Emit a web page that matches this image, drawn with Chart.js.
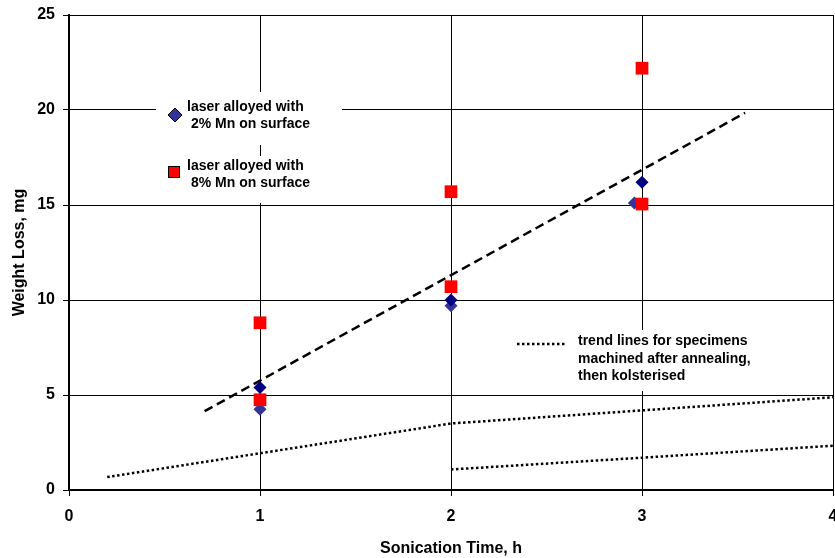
<!DOCTYPE html>
<html>
<head>
<meta charset="utf-8">
<script src="https://cdn.jsdelivr.net/npm/chart.js@4/dist/chart.umd.min.js"></script>
<style>
  html, body { margin: 0; padding: 0; background: #fff; }
  #wrap { width: 835px; height: 558px; }
</style>
</head>
<body>
<div id="wrap"><canvas id="lossChart" width="835" height="558"></canvas></div>
<script>
// sonication time, h
const hours = [1, 2, 3];

// laser alloyed, 2% Mn (two specimens)
const mn2A = [5.4, 10.0, 16.2];
const mn2BHours = [1, 2, 2.96];
const mn2B = [4.25, 9.7, 15.1];

// laser alloyed, 8% Mn (two specimens)
const mn8A = [8.8, 15.7, 22.2];
const mn8B = [4.75, 10.7, 15.05];

// dashed trend through the laser alloyed specimens
const trendHours = [0.71, 3.54];
const trendLoss = [4.15, 19.85];

// dotted trends, machined after annealing then kolsterised
const kolsterAHours = [0.2, 2, 4];
const kolsterA = [0.68, 3.5, 4.88];
const kolsterBHours = [2, 3, 4];
const kolsterB = [1.08, 1.7, 2.33];

const xTicks = [0, 1, 2, 3, 4];
const yTicks = [0, 5, 10, 15, 20, 25];

const FONT = '"Liberation Sans", Arial, sans-serif';

function pts(xs, ys) {
  return xs.map((x, i) => ({ x: x, y: ys[i] }));
}

// white label boxes with the in-plot key and the trend note
const notesPlugin = {
  id: "notes",
  beforeDatasetsDraw(chart) {
    const ctx = chart.ctx;
    ctx.save();
    ctx.fillStyle = "#fff";
    ctx.fillRect(156, 92, 186, 53);
    ctx.fillRect(156, 156, 186, 47);
    ctx.fillRect(505, 330, 250, 61);
    ctx.restore();
  },
  afterDatasetsDraw(chart) {
    const ctx = chart.ctx;
    ctx.save();

    // diamond marker
    ctx.fillStyle = "#333399";
    ctx.strokeStyle = "#000";
    ctx.lineWidth = 1;
    ctx.beginPath();
    ctx.moveTo(175, 108);
    ctx.lineTo(182, 115);
    ctx.lineTo(175, 122);
    ctx.lineTo(168, 115);
    ctx.closePath();
    ctx.fill();
    ctx.stroke();

    // square marker
    ctx.fillStyle = "#ff0000";
    ctx.fillRect(168, 166, 12, 12);
    ctx.strokeRect(168.5, 166.5, 11, 11);

    // dotted sample
    ctx.strokeStyle = "#000";
    ctx.lineWidth = 2.5;
    ctx.setLineDash([2.5, 2.5]);
    ctx.beginPath();
    ctx.moveTo(517, 344);
    ctx.lineTo(567, 344);
    ctx.stroke();
    ctx.setLineDash([]);

    ctx.fillStyle = "#000";
    ctx.font = "bold 14px " + FONT;
    ctx.textBaseline = "alphabetic";
    ctx.fillText("laser alloyed with", 187, 111);
    ctx.fillText("2% Mn on surface", 191, 128);
    ctx.fillText("laser alloyed with", 187, 170);
    ctx.fillText("8% Mn on surface", 191, 187);
    ctx.fillText("trend lines for specimens", 578, 345);
    ctx.fillText("machined after annealing,", 578, 363);
    ctx.fillText("then kolsterised", 578, 380);
    ctx.restore();
  }
};

const ctx = document.getElementById("lossChart").getContext("2d");

new Chart(ctx, {
  type: "scatter",
  data: {
    datasets: [
      {
        label: "8% Mn",
        data: pts(hours, mn8A).concat(pts(hours, mn8B)),
        pointStyle: "rect",
        pointRadius: 9,
        pointHoverRadius: 9,
        backgroundColor: "#ff0000",
        borderWidth: 0,
        order: 1
      },
      {
        label: "2% Mn",
        data: pts(hours, mn2A),
        pointStyle: "rectRot",
        pointRadius: 6.5,
        pointHoverRadius: 6.5,
        backgroundColor: "#000080",
        borderWidth: 0,
        order: 2
      },
      {
        label: "2% Mn b",
        data: pts(mn2BHours, mn2B),
        pointStyle: "rectRot",
        pointRadius: 6.5,
        pointHoverRadius: 6.5,
        backgroundColor: "#333399",
        borderWidth: 0,
        order: 3
      },
      {
        label: "trend",
        data: pts(trendHours, trendLoss),
        showLine: true,
        pointRadius: 0,
        borderColor: "#000",
        borderWidth: 2.5,
        borderDash: [9, 5],
        order: 4
      },
      {
        label: "kolsterised a",
        data: pts(kolsterAHours, kolsterA),
        showLine: true,
        pointRadius: 0,
        borderColor: "#000",
        borderWidth: 2.5,
        borderDash: [2.5, 2.5],
        order: 5
      },
      {
        label: "kolsterised b",
        data: pts(kolsterBHours, kolsterB),
        showLine: true,
        pointRadius: 0,
        borderColor: "#000",
        borderWidth: 2.5,
        borderDash: [2.5, 2.5],
        order: 6
      }
    ]
  },
  options: {
    responsive: false,
    animation: false,
    devicePixelRatio: 1,
    layout: { autoPadding: false, padding: { left: 0, right: 2, top: 15, bottom: 0 } },
    plugins: {
      legend: { display: false },
      tooltip: { enabled: false }
    },
    scales: {
      x: {
        type: "linear",
        min: 0,
        max: 4,
        afterBuildTicks(scale) {
          scale.ticks = xTicks.map(v => ({ value: v }));
        },
        afterFit(scale) {
          scale.height = 68;
          scale.paddingLeft = 0;
          scale.paddingRight = 0;
        },
        ticks: {
          color: "#000",
          font: { family: FONT, size: 16, weight: "bold" },
          padding: 11,
          maxRotation: 0
        },
        grid: { color: "#000", lineWidth: 1, tickLength: 6 },
        border: { color: "#000", width: 2 },
        title: {
          display: true,
          text: "Sonication Time, h",
          color: "#000",
          font: { family: FONT, size: 16, weight: "bold" },
          padding: { top: 0, bottom: 0 }
        }
      },
      y: {
        type: "linear",
        min: 0,
        max: 25,
        afterBuildTicks(scale) {
          scale.ticks = yTicks.map(v => ({ value: v }));
        },
        afterFit(scale) {
          scale.width = 69;
          scale.paddingTop = 0;
          scale.paddingBottom = 0;
        },
        ticks: {
          color: "#000",
          font: { family: FONT, size: 16, weight: "bold" },
          padding: 8
        },
        grid: { color: "#000", lineWidth: 1, tickLength: 6 },
        border: { color: "#000", width: 2 },
        title: {
          display: true,
          text: "Weight Loss, mg",
          color: "#000",
          font: { family: FONT, size: 16, weight: "bold" },
          padding: { top: 10, bottom: 0 }
        }
      }
    }
  },
  plugins: [notesPlugin]
});
</script>
</body>
</html>
